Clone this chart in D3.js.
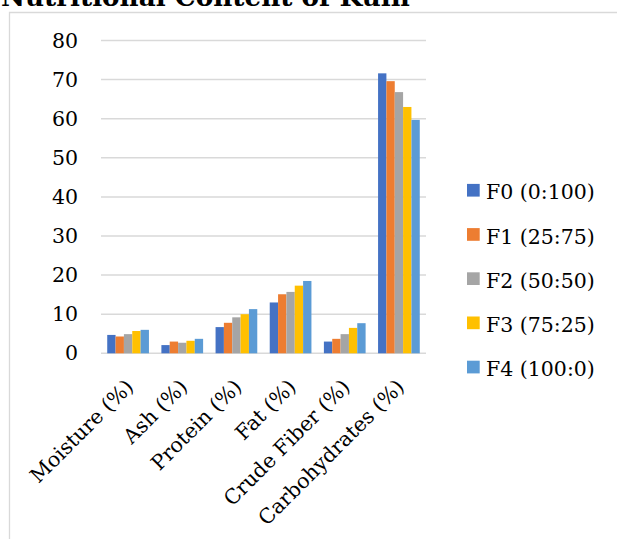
<!DOCTYPE html>
<html><head><meta charset="utf-8">
<script src="https://cdn.jsdelivr.net/npm/d3@7"></script>
<style>html,body{margin:0;padding:0;background:#fff;overflow:hidden}</style>
</head><body>
<svg id="c" width="617" height="539"></svg>
<script>
const title = "Nutritional Content of Kulfi";
const categories = ["Moisture (%)", "Ash (%)", "Protein (%)", "Fat (%)", "Crude Fiber (%)", "Carbohydrates (%)"];
const seriesNames = ["F0 (0:100)", "F1 (25:75)", "F2 (50:50)", "F3 (75:25)", "F4 (100:0)"];
const F0 = [4.7, 2.1, 6.7, 13.0, 3.0, 71.6];
const F1 = [4.3, 3.0, 7.8, 15.1, 3.7, 69.6];
const F2 = [4.9, 2.7, 9.2, 15.7, 4.9, 66.8];
const F3 = [5.7, 3.2, 10.0, 17.3, 6.5, 63.0];
const F4 = [6.0, 3.7, 11.3, 18.5, 7.7, 59.7];
const yTicks = [0, 10, 20, 30, 40, 50, 60, 70, 80];
const colors = ["#4472C4", "#ED7D31", "#A5A5A5", "#FFC000", "#5B9BD5"];

const series = [F0, F1, F2, F3, F4];
const FONT = "'DejaVu Serif', serif";
const svg = d3.select("#c");

// frame
svg.append("path").attr("d", "M9.5,539 V12.5 H617").attr("fill", "none")
  .attr("stroke", "#d9d9d9").attr("stroke-width", 1.3);

// title
const t = svg.append("text").attr("x", 1).attr("y", 6)
  .attr("font-family", FONT).attr("font-weight", "bold").attr("font-size", 26)
  .attr("fill", "#000").text(title);
const tw = t.node().getComputedTextLength();
t.attr("font-size", 26 * 409 / tw);

const x0 = d3.scaleBand().domain(categories).range([101, 426]).paddingInner(0.23).paddingOuter(0.115);
const x1 = d3.scaleBand().domain(seriesNames).range([0, x0.bandwidth()]);
const y = d3.scaleLinear().domain([0, 80]).range([353.3, 40.5]);

// grid
svg.append("g").selectAll("line").data(yTicks).join("line")
  .attr("x1", 101).attr("x2", 426)
  .attr("y1", d => y(d)).attr("y2", d => y(d))
  .attr("stroke", "#d9d9d9").attr("stroke-width", 1.5);

// y axis labels
const yAxis = d3.axisLeft(y).tickValues(yTicks).tickSize(0).tickPadding(0);
const gy = svg.append("g").attr("transform", "translate(78,0)").call(yAxis);
gy.select(".domain").remove();
gy.selectAll("text").attr("font-family", FONT).attr("font-size", 20.5).attr("fill", "#000");

// bars
const groups = svg.append("g").selectAll("g").data(categories).join("g")
  .attr("transform", d => `translate(${x0(d)},0)`);
groups.selectAll("rect").data((c, i) => series.map((s, j) => ({ name: seriesNames[j], v: s[i], j })))
  .join("rect")
  .attr("x", d => x1(d.name)).attr("width", x1.bandwidth())
  .attr("y", d => y(d.v)).attr("height", d => y(0) - y(d.v))
  .attr("fill", d => colors[d.j]);

// x axis labels
const xAxis = d3.axisBottom(x0).tickSize(0).tickPadding(0);
const gx = svg.append("g").attr("transform", "translate(0,0)").call(xAxis);
gx.select(".domain").remove();
gx.selectAll(".tick").attr("transform", d => `translate(${x0(d) + x0.bandwidth() / 2 + 6.5},388)`);
gx.selectAll("text").attr("font-family", FONT).attr("font-size", 20.5).attr("fill", "#000")
  .attr("text-anchor", "end").attr("dy", 0).attr("y", 0).attr("transform", "rotate(-45)");

// legend
const lg = svg.append("g").selectAll("g").data(seriesNames).join("g")
  .attr("transform", (d, i) => `translate(467,${190.3 + i * 44.2})`);
lg.append("rect").attr("x", 0).attr("y", -6.4).attr("width", 12.7).attr("height", 12.7)
  .attr("fill", (d, i) => colors[i]);
lg.append("text").attr("x", 19).attr("y", 9).attr("font-family", FONT).attr("font-size", 20.5)
  .attr("fill", "#000").text(d => d);
</script>
</body></html>
